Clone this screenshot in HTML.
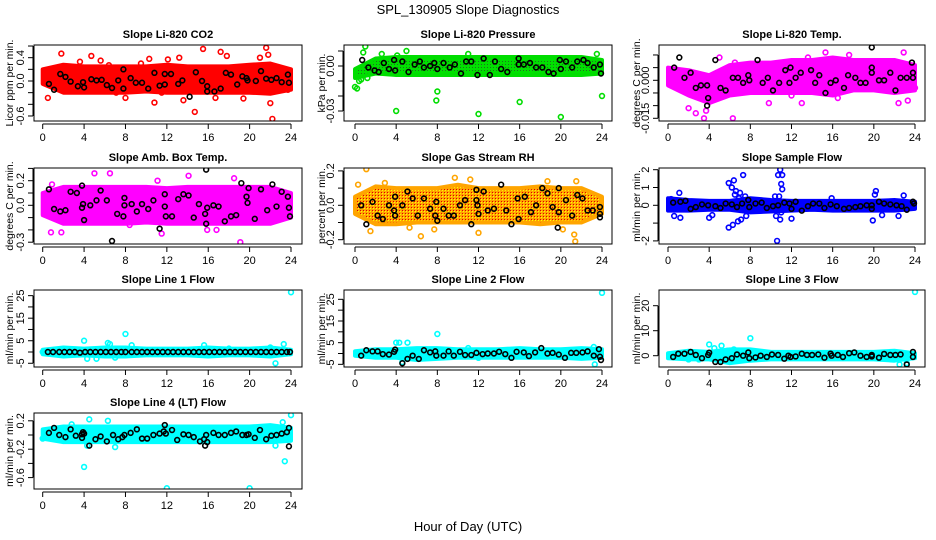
<!DOCTYPE html>
<html><head><meta charset="utf-8">
<style>
html,body{margin:0;padding:0;background:#fff;}
svg{display:block;font-family:"Liberation Sans",sans-serif;}
</style></head>
<body>
<svg id="chart" width="936" height="540" viewBox="0 0 936 540" xmlns="http://www.w3.org/2000/svg">
<defs>
<pattern id="pG" width="3" height="3" patternUnits="userSpaceOnUse"><rect width="3" height="3" fill="#00e000"/><rect x="1" y="1" width="1" height="1" fill="#207020"/></pattern>
<pattern id="pO" width="3" height="3" patternUnits="userSpaceOnUse"><rect width="3" height="3" fill="#ffa500"/><rect x="1" y="1" width="1" height="1" fill="#ffff00"/><rect x="0" y="0" width="1" height="1" fill="#e00000"/></pattern>
</defs>
<text x="468" y="14" text-anchor="middle" font-size="13">SPL_130905  Slope Diagnostics</text>
<text x="468" y="531" text-anchor="middle" font-size="13">Hour of Day (UTC)</text>
<g id="panels"></g>
</svg>
<script>
// ---- data (hour of day, slope value) ----
const bandHours = [0,2,4,6,8,10,12,14,16,18,20,22,24];

const co2BandHi = [0.2,0.28,0.25,0.25,0.25,0.25,0.28,0.25,0.25,0.25,0.28,0.3,0.2];
const co2BandLo = [-0.05,-0.2,-0.2,-0.2,-0.2,-0.18,-0.2,-0.2,-0.2,-0.2,-0.2,-0.22,-0.15];
const co2Outliers = [[0.5,-0.29],[1.8,0.47],[4.7,0.43],[5.6,0.35],[6.4,0.27],[7.1,-0.2],[8.0,-0.29],[10.3,0.38],[10.8,-0.37],[11.5,-0.2],[12.1,0.37],[13.2,0.4],[13.6,-0.33],[14.7,-0.53],[15.5,0.55],[16.7,-0.29],[17.2,0.5],[17.8,0.43],[19.4,-0.3],[21.0,0.4],[21.6,0.57],[21.8,0.45],[22.0,-0.38],[22.2,-0.65],[23.7,-0.15],[3.6,0.33],[9.5,0.3]];
const co2Black = [[0.6,-0.05],[1.1,-0.15],[1.7,0.12],[2.2,0.07],[2.7,-0.01],[3.4,-0.09],[3.9,-0.02],[4.0,-0.11],[4.7,0.03],[5.2,0.01],[5.7,0.02],[6.2,-0.07],[6.7,-0.12],[7.3,0.01],[7.8,0.2],[7.8,-0.13],[8.5,0.05],[9.0,-0.03],[9.6,-0.03],[10.2,-0.13],[10.8,0.14],[11.3,-0.08],[11.8,0.12],[11.8,-0.06],[12.4,0.12],[13.1,-0.05],[13.5,0.01],[14.2,-0.27],[14.8,0.15],[15.4,0.0],[15.9,-0.09],[15.9,-0.18],[16.6,-0.18],[17.2,-0.13],[17.7,0.14],[18.2,0.11],[18.8,-0.06],[19.3,0.08],[19.7,0.05],[19.8,0.01],[20.6,0.0],[21.1,0.17],[21.6,0.04],[22.1,0.02],[22.6,0.05],[23.1,-0.02],[23.7,0.11],[23.8,-0.03]];

const presBandHi = [-0.002,0.005,0.006,0.006,0.006,0.006,0.006,0.006,0.006,0.006,0.006,0.006,0.004];
const presBandLo = [-0.008,-0.005,-0.006,-0.006,-0.006,-0.006,-0.006,-0.006,-0.006,-0.006,-0.006,-0.006,-0.005];
const presOutliers = [[0.0,-0.014],[0.2,-0.015],[0.4,-0.01],[0.6,-0.009],[0.8,0.009],[1.0,0.013],[1.2,-0.008],[2.6,0.008],[4.0,-0.030],[4.1,0.007],[5.0,0.010],[8.0,-0.017],[7.9,-0.023],[12.0,-0.032],[16.0,-0.024],[20.0,-0.034],[24.0,-0.020],[23.5,0.008],[11.0,0.008]];
const presBlack = [[0.7,0.004],[1.3,-0.001],[1.9,-0.003],[2.3,-0.004],[2.8,0.002],[3.3,-0.002],[3.8,0.004],[3.9,-0.003],[4.6,0.003],[5.2,-0.004],[5.8,0.001],[6.3,0.003],[6.7,-0.001],[7.3,0.0],[7.7,0.002],[8.0,-0.002],[8.6,0.002],[9.2,-0.001],[9.7,0.001],[10.3,-0.005],[10.8,0.003],[11.3,0.003],[11.9,-0.006],[12.5,0.005],[13.1,-0.006],[13.6,0.003],[14.2,-0.002],[14.8,-0.004],[15.9,0.005],[15.9,0.001],[16.4,0.001],[17.0,0.002],[17.6,-0.001],[18.2,-0.001],[18.8,-0.004],[19.3,-0.005],[19.9,0.004],[20.0,-0.002],[20.5,0.003],[21.1,-0.001],[21.6,0.003],[22.2,0.004],[22.6,0.002],[23.2,-0.001],[23.8,0.001],[23.9,-0.005]];

const tempBandHi = [0.005,0.004,0.002,0.006,0.007,0.007,0.008,0.008,0.009,0.008,0.008,0.008,0.006];
const tempBandLo = [-0.002,-0.006,-0.009,-0.006,-0.005,-0.005,-0.005,-0.005,-0.006,-0.004,-0.004,-0.005,-0.004];
const tempOutliers = [[0.5,0.004],[2.0,-0.011],[2.7,-0.013],[3.5,-0.015],[3.7,-0.012],[6.3,-0.015],[6.5,0.007],[9.8,-0.009],[13.0,-0.009],[13.6,0.009],[15.3,0.011],[16.5,-0.007],[17.6,0.010],[19.6,0.006],[22.4,-0.009],[22.9,0.011],[23.3,-0.008],[24.0,-0.003],[5.0,0.009],[12.0,-0.006]];
const tempBlack = [[0.6,0.005],[1.1,0.009],[1.6,0.001],[2.2,0.003],[2.7,-0.003],[3.2,-0.002],[3.8,-0.002],[3.9,-0.007],[3.8,-0.010],[4.6,0.008],[5.1,-0.003],[5.6,-0.004],[6.3,0.001],[6.8,0.001],[7.3,-0.001],[7.8,0.002],[7.9,0.0],[8.7,0.008],[9.2,-0.001],[9.7,0.001],[10.2,-0.004],[10.8,-0.001],[11.4,0.004],[11.8,-0.001],[11.9,0.005],[12.4,0.001],[12.9,0.003],[13.9,0.004],[14.3,-0.001],[14.7,0.002],[15.3,-0.005],[15.8,-0.001],[16.3,0.0],[17.1,-0.003],[17.5,0.002],[18.2,0.001],[18.7,-0.001],[19.2,-0.001],[19.8,0.013],[19.8,0.005],[19.8,0.003],[20.5,0.0],[21.0,0.0],[21.6,0.003],[22.1,-0.004],[22.6,0.001],[23.2,0.001],[23.7,0.007],[23.8,0.003],[23.8,0.001]];

const ambBandHi = [0.1,0.15,0.15,0.15,0.15,0.15,0.14,0.15,0.15,0.15,0.15,0.15,0.1];
const ambBandLo = [-0.08,-0.15,-0.15,-0.15,-0.15,-0.14,-0.15,-0.15,-0.15,-0.15,-0.15,-0.15,-0.1];
const ambOutliers = [[5.0,0.26],[6.5,0.26],[14.1,0.24],[18.5,0.22],[0.8,-0.22],[1.8,-0.22],[19.1,-0.3],[11.5,-0.23],[15.9,-0.2],[16.8,-0.2],[8.4,-0.16],[11.1,0.2],[0.9,0.17]];
const ambBlack = [[0.6,0.13],[1.1,-0.03],[1.7,-0.05],[2.2,-0.04],[2.7,0.11],[3.3,0.10],[3.8,0.16],[3.8,-0.02],[3.9,0.01],[4.0,-0.12],[4.6,0.0],[5.2,0.04],[5.6,0.12],[6.2,0.04],[6.7,-0.29],[7.2,-0.07],[7.8,-0.09],[7.9,0.0],[7.9,0.06],[8.6,0.01],[9.1,-0.05],[9.6,0.01],[10.2,-0.03],[10.7,0.04],[11.3,-0.19],[11.8,0.09],[11.8,-0.01],[11.9,-0.09],[12.5,-0.09],[13.1,0.05],[13.6,0.09],[14.1,0.08],[14.6,-0.1],[15.1,0.01],[15.7,-0.07],[15.8,-0.15],[15.8,0.29],[15.9,-0.02],[16.5,0.0],[17.0,-0.01],[17.6,-0.13],[18.2,-0.09],[18.7,-0.08],[19.2,0.18],[19.7,0.07],[19.8,0.02],[19.9,0.14],[20.5,-0.11],[21.1,0.13],[21.7,-0.04],[22.2,0.17],[22.6,-0.01],[23.1,0.11],[23.7,0.07],[23.8,-0.02],[23.9,-0.09]];

const rhBandHi = [0.05,0.11,0.1,0.1,0.1,0.12,0.1,0.1,0.1,0.11,0.1,0.1,0.05];
const rhBandLo = [-0.05,-0.11,-0.11,-0.1,-0.1,-0.1,-0.1,-0.1,-0.1,-0.11,-0.1,-0.1,-0.05];
const rhOutliers = [[1.1,0.21],[1.5,-0.15],[5.3,-0.13],[6.4,-0.18],[7.7,-0.14],[9.7,0.16],[11.2,0.15],[12.0,-0.16],[18.7,0.14],[20.2,-0.14],[21.3,-0.17],[21.5,0.14],[21.4,-0.21],[2.9,0.13],[0.3,0.12]];
const rhBlack = [[0.6,0.0],[1.1,-0.11],[1.7,0.02],[2.2,-0.06],[2.7,-0.08],[3.3,0.0],[3.8,-0.03],[3.9,0.05],[3.9,-0.06],[4.6,0.0],[5.1,0.08],[5.6,0.04],[6.1,-0.06],[6.7,0.04],[7.3,-0.02],[7.9,0.02],[7.8,-0.06],[8.0,-0.09],[8.6,-0.02],[9.1,-0.06],[9.6,-0.06],[10.2,0.0],[10.7,0.03],[11.3,-0.11],[11.8,0.03],[11.8,0.09],[11.9,0.0],[12.0,-0.05],[12.5,0.08],[12.9,-0.03],[13.5,-0.02],[14.2,0.12],[14.7,-0.03],[15.2,-0.11],[15.8,0.04],[15.9,-0.08],[16.5,0.05],[17.1,-0.04],[17.6,0.0],[18.2,0.1],[18.7,0.07],[19.2,-0.01],[19.8,0.1],[19.7,-0.13],[19.8,-0.04],[20.5,0.03],[21.1,-0.06],[21.6,0.06],[22.1,0.04],[22.6,-0.03],[23.1,-0.03],[23.8,-0.01],[23.8,-0.05],[23.8,-0.07]];

const flowBandHi = [0.4,0.3,0.25,0.25,0.4,0.3,0.25,0.25,0.25,0.25,0.25,0.3,0.2];
const flowBandLo = [-0.3,-0.3,-0.25,-0.25,-0.4,-0.35,-0.3,-0.25,-0.3,-0.3,-0.3,-0.3,-0.2];
const flowOutliers = [[0.3,0.35],[0.6,-0.6],[1.1,0.7],[1.2,-0.7],[4.0,-0.7],[4.3,-0.55],[5.9,1.25],[5.9,-1.25],[6.3,-1.1],[6.4,1.4],[6.2,1.0],[6.6,0.8],[6.8,-0.9],[7.0,0.7],[7.3,1.7],[7.1,-0.8],[7.5,0.5],[7.6,-0.6],[10.5,-0.6],[10.6,-2.0],[10.7,1.7],[10.8,0.5],[10.9,2.0],[11.0,1.2],[11.1,1.7],[10.9,-0.8],[11.0,-0.4],[12.0,-0.75],[15.9,0.4],[19.9,-0.85],[20.1,0.6],[20.2,0.8],[20.8,-0.55],[22.4,-0.6],[22.9,0.55],[6.5,0.6],[6.9,0.4],[10.4,0.5],[11.1,0.9]];
const flowBlack = [[0.5,0.15],[1.2,0.2],[1.7,0.25],[2.2,-0.2],[2.7,-0.1],[3.3,0.05],[3.9,0.0],[4.6,-0.05],[5.1,-0.15],[5.6,0.1],[6.2,0.05],[6.7,-0.1],[7.2,0.1],[7.8,0.3],[7.9,-0.1],[8.5,0.1],[9.1,0.15],[9.6,-0.15],[10.2,-0.05],[10.7,0.0],[11.3,0.15],[11.8,0.1],[12.0,-0.2],[12.4,0.2],[13.0,-0.3],[13.6,-0.05],[14.1,0.1],[14.7,0.1],[15.2,-0.15],[15.8,0.05],[16.4,-0.05],[17.1,-0.2],[17.6,-0.15],[18.2,-0.1],[18.7,-0.05],[19.3,0.0],[19.8,-0.2],[19.8,0.0],[20.5,0.2],[21.0,0.1],[21.6,0.05],[22.2,0.0],[22.7,-0.05],[23.2,-0.25],[23.8,0.2],[23.9,0.1]];

const line1BandHi = [1,2,1.5,2,2,1.5,1.5,1.5,2,1.5,1.5,2,1];
const line1BandLo = [-1,-2,-1.5,-2,-2,-1.5,-1.5,-1.5,-2,-1.5,-1.5,-2,-1];
const line1Outliers = [[4.0,5],[4.3,-3],[5.2,-3],[6.3,4],[6.5,3.5],[7.0,-2.5],[8.0,8],[8.6,3],[15.6,3],[22.5,-5],[23.3,3.5],[24.0,26.5],[18.0,1.5],[22.0,2],[0.0,0]];
const line1Black = [[0.5,0],[1.0,0],[1.6,0],[2.1,0],[2.6,0],[3.1,0],[3.6,-0.3],[4.1,0],[4.6,0],[5.1,0],[5.6,0],[6.1,0],[6.6,0],[7.1,0],[7.6,0],[8.0,0],[8.6,0],[9.1,0],[9.6,0],[10.1,0],[10.6,0],[11.1,0],[11.6,0],[12.1,0],[12.6,0],[13.1,0],[13.6,0],[14.1,0],[14.6,0],[15.1,0],[15.6,0],[16.1,0],[16.6,0],[17.1,0],[17.6,0],[18.1,0],[18.6,0],[19.1,0],[19.6,0],[20.1,0],[20.6,0],[21.1,0],[21.6,0],[22.1,0],[22.6,0],[23.1,0],[23.6,0],[23.9,0]];

const line2BandHi = [1,2,2,2.5,2.5,2,2,2,2.5,2,2,2.5,2];
const line2BandLo = [-1,-2,-2,-3,-2.5,-2,-2,-2,-2,-2,-2,-2.5,-2];
const line2Outliers = [[4.0,5],[4.3,5],[5.1,5],[4.6,-4],[8.0,9],[23.3,-5],[24.0,28],[11.0,2.5],[12.0,-2],[23.2,3]];
const line2Black = [[0.6,-1],[1.1,1.5],[1.7,1],[2.2,1],[2.7,-0.3],[3.3,-0.5],[3.8,0.8],[3.9,1.8],[4.6,-4.5],[5.1,-2.5],[5.6,-1],[6.2,-2.5],[6.7,1.5],[7.3,0.5],[7.8,1],[7.9,-1],[8.6,-1],[9.1,1],[9.6,-1],[10.2,0.8],[10.7,-0.7],[11.3,-0.7],[11.8,0.3],[12.4,-0.3],[12.9,0],[13.5,0],[14.0,0.8],[14.6,-0.3],[15.2,-2],[15.7,0.8],[16.4,0.5],[16.9,-1.2],[17.5,0.5],[18.1,2.5],[18.7,0],[19.2,0.3],[19.8,-0.5],[20.4,-2],[21.0,0.3],[21.5,0.3],[22.1,0.5],[22.6,1],[23.2,-1],[23.7,2],[23.8,-1.5],[23.9,-3]];

const line3BandHi = [1,2,1.5,2.5,2.5,1.5,1.5,1.5,1.5,1.5,1.5,2,1];
const line3BandLo = [-1,-1.5,-1.5,-3,-2,-1.5,-1.5,-1.5,-1.5,-1.5,-1.5,-2,-1];
const line3Outliers = [[4.0,4.5],[4.5,3],[5.2,4],[5.8,2],[6.4,2.5],[8.0,7],[22.5,-3.5],[23.2,-3],[24.0,25.5],[2.0,-1.5],[3.0,-1.5]];
const line3Black = [[0.5,-0.5],[1.0,0.8],[1.6,0.8],[2.2,1.5],[2.7,0.3],[3.3,-1],[3.9,0.3],[4.0,1.2],[4.6,-2.5],[5.1,-2.5],[5.6,-1.5],[6.2,-1],[6.7,0.5],[7.3,0],[7.8,1.3],[7.9,-1],[8.5,-0.7],[9.0,0],[9.6,-0.5],[10.1,0.5],[10.7,0.3],[11.3,-1.2],[11.7,0],[11.9,-0.5],[12.4,-0.3],[13.0,0.8],[13.5,0.3],[14.0,0.3],[14.6,0.5],[15.2,-0.8],[15.8,0.8],[15.9,0],[16.5,0.3],[17.0,-0.5],[17.6,1],[18.1,1.3],[18.7,0],[19.3,-0.5],[19.8,0.3],[19.8,-0.3],[20.5,-0.8],[21.0,0.7],[21.6,0.3],[22.1,0.3],[22.6,0.5],[23.2,-3.5],[23.8,1.5],[23.8,-0.5]];

const line4BandHi = [0.08,0.12,0.12,0.12,0.12,0.12,0.12,0.12,0.12,0.12,0.12,0.14,0.1];
const line4BandLo = [-0.05,-0.1,-0.1,-0.1,-0.1,-0.1,-0.1,-0.1,-0.1,-0.1,-0.1,-0.1,-0.08];
const line4Outliers = [[4.0,-0.45],[4.5,0.22],[6.3,0.2],[7.0,-0.17],[12.0,-0.75],[20.0,-0.75],[23.4,-0.37],[24.0,0.28],[23.2,0.18],[2.8,0.15],[4.3,-0.15],[22.5,-0.15],[0.0,-0.05]];
const line4Black = [[0.6,0.03],[1.1,0.1],[1.6,0.0],[2.2,-0.03],[2.7,0.08],[3.2,-0.01],[3.8,0.01],[3.9,0.04],[4.0,0.02],[3.8,-0.04],[4.5,-0.15],[5.1,-0.06],[5.6,-0.02],[6.2,-0.09],[6.8,0.0],[7.3,-0.06],[7.7,-0.03],[7.9,0.0],[8.5,0.03],[9.1,0.08],[9.6,-0.05],[10.1,-0.05],[10.7,0.0],[11.3,0.02],[11.7,0.05],[11.8,0.14],[11.9,0.02],[12.5,0.07],[13.0,-0.07],[13.6,0.01],[14.1,0.0],[14.6,-0.03],[15.2,-0.09],[15.6,-0.06],[15.7,-0.15],[15.9,-0.1],[15.8,0.0],[16.5,0.03],[17.0,0.0],[17.6,0.0],[18.2,0.03],[18.7,0.05],[19.3,0.0],[19.7,0.0],[19.9,0.01],[20.5,-0.04],[21.0,0.07],[21.6,-0.06],[22.1,-0.01],[22.6,0.0],[23.1,0.02],[23.6,0.04],[23.8,0.1],[23.8,-0.16]];

const xTickLabels = ["0","4","8","12","16","20","24"];
const xTickValues = [0,4,8,12,16,20,24];

// ---- layout (not data) ----
const cols = [{l:34,r:302,x0:42.7,x24:291,yl:9},{l:344,r:612,x0:355,x24:602,yl:321},{l:659,r:925,x0:668,x24:915,yl:636}];
const rows = [{t:45,b:121},{t:168,b:244},{t:290,b:367},{t:413,b:489}];

const panels = [
 {name:"co2",title:"Slope Li-820 CO2",yl:"Licor ppm per min.",c:0,r:0,zero:81,k:58.3,ticks:[-0.6,-0.4,-0.2,0,0.2,0.4,0.6],labels:{"0.4":"0.4","0":"0.0","-0.6":"-0.6"},col:"#ff0000",fill:"#ff0000",hi:co2BandHi,lo:co2BandLo,out:co2Outliers,blk:co2Black},
 {name:"pressure",title:"Slope Li-820 Pressure",yl:"kPa per min.",c:1,r:0,zero:66,k:1500,ticks:[-0.03,-0.02,-0.01,0,0.01],labels:{"0":"0.00","-0.03":"-0.03"},col:"#00dd00",fill:"url(#pG)",hi:presBandHi,lo:presBandLo,out:presOutliers,blk:presBlack},
 {name:"temp",title:"Slope Li-820 Temp.",yl:"degrees C per min.",c:2,r:0,zero:80.3,k:2533,ticks:[-0.015,-0.01,-0.005,0,0.005,0.01],labels:{"0":"0.000","-0.015":"-0.015"},col:"#ff00ff",fill:"#ff00ff",hi:tempBandHi,lo:tempBandLo,out:tempOutliers,blk:tempBlack},
 {name:"amb-box-temp",title:"Slope Amb. Box Temp.",yl:"degrees C per min.",c:0,r:1,zero:205.3,k:123,ticks:[-0.3,-0.2,-0.1,0,0.1,0.2,0.3],labels:{"0.2":"0.2","0":"0.0","-0.3":"-0.3"},col:"#ff00ff",fill:"#ff00ff",hi:ambBandHi,lo:ambBandLo,out:ambOutliers,blk:ambBlack},
 {name:"gas-rh",title:"Slope Gas Stream RH",yl:"percent per min.",c:1,r:1,zero:205.3,k:172,ticks:[-0.2,-0.1,0,0.1,0.2],labels:{"0.2":"0.2","0":"0.0","-0.2":"-0.2"},col:"#ffa500",fill:"url(#pO)",hi:rhBandHi,lo:rhBandLo,out:rhOutliers,blk:rhBlack},
 {name:"sample-flow",title:"Slope Sample Flow",yl:"ml/min per min.",c:2,r:1,zero:205.3,k:17.8,ticks:[-2,-1,0,1,2],labels:{"2":"2","1":"1","0":"0","-2":"-2"},col:"#0000ff",fill:"#0000ff",hi:flowBandHi,lo:flowBandLo,out:flowOutliers,blk:flowBlack},
 {name:"line1-flow",title:"Slope Line 1 Flow",yl:"ml/min per min.",c:0,r:2,zero:352,k:2.254,ticks:[-5,0,5,10,15,20,25],labels:{"25":"25","15":"15","5":"5","-5":"-5"},col:"#00ffff",fill:"#00ffff",hi:line1BandHi,lo:line1BandLo,out:line1Outliers,blk:line1Black},
 {name:"line2-flow",title:"Slope Line 2 Flow",yl:"ml/min per min.",c:1,r:2,zero:353.5,k:2.167,ticks:[-5,0,5,10,15,20,25],labels:{"25":"25","15":"15","5":"5","-5":"-5"},col:"#00ffff",fill:"#00ffff",hi:line2BandHi,lo:line2BandLo,out:line2Outliers,blk:line2Black},
 {name:"line3-flow",title:"Slope Line 3 Flow",yl:"ml/min per min.",c:2,r:2,zero:355.7,k:2.5,ticks:[0,10,20],labels:{"20":"20","10":"10","0":"0"},col:"#00ffff",fill:"#00ffff",hi:line3BandHi,lo:line3BandLo,out:line3Outliers,blk:line3Black},
 {name:"line4-flow",title:"Slope Line 4 (LT) Flow",yl:"ml/min per min.",c:0,r:3,zero:435,k:71,ticks:[-0.6,-0.4,-0.2,0,0.2],labels:{"0.2":"0.2","-0.2":"-0.2","-0.6":"-0.6"},col:"#00ffff",fill:"#00ffff",hi:line4BandHi,lo:line4BandLo,out:line4Outliers,blk:line4Black}
];

const NS="http://www.w3.org/2000/svg";
function mk(tag,attrs,parent){const e=document.createElementNS(NS,tag);for(const a in attrs)e.setAttribute(a,attrs[a]);parent.appendChild(e);return e;}
const root=document.getElementById('panels');

panels.forEach(p=>{
  const C=cols[p.c],R=rows[p.r];
  const xs=h=>C.x0+(C.x24-C.x0)*h/24;
  const ys=v=>p.zero-v*p.k;
  const g=mk('g',{},root);
  
  
  const cx=(C.l+C.r)/2;
  const t=mk('text',{x:cx,y:R.t-7,'text-anchor':'middle','font-size':'11','font-weight':'bold'},g);
  t.textContent=p.title;
  
  
  // clip
  const cid='clip-'+p.name;
  const cp=mk('clipPath',{id:cid},g);
  mk('rect',{x:C.l,y:R.t,width:C.r-C.l,height:R.b-R.t},cp);
  const plot=mk('g',{'clip-path':'url(#'+cid+')'},g);
  
  
  // band
  let d='';
  bandHours.forEach((h,i)=>{d+=(i?'L':'M')+xs(h).toFixed(1)+','+ys(p.hi[i]).toFixed(1);});
  for(let i=bandHours.length-1;i>=0;i--){d+='L'+xs(bandHours[i]).toFixed(1)+','+ys(p.lo[i]).toFixed(1);}
  const band=mk('path',{d:d+'Z',fill:p.fill,stroke:p.col,'stroke-width':'4','stroke-linejoin':'round'},plot);
  
  
  p.out.forEach(pt=>{
    const c=mk('circle',{cx:xs(pt[0]),cy:ys(pt[1]),r:2.4,fill:'none',stroke:p.col,'stroke-width':'1.6'},plot);
    
    
  });
  p.blk.forEach(pt=>{
    const c=mk('circle',{cx:xs(pt[0]),cy:ys(pt[1]),r:2.4,fill:'none',stroke:'#000','stroke-width':'1.6'},plot);
    
    
  });
  // box
  const box=mk('rect',{x:C.l,y:R.t,width:C.r-C.l,height:R.b-R.t,fill:'none',stroke:'#000','stroke-width':'1'},g);
  
  
  // x axis
  const xa=mk('g',{},g);
  
  
  const ax=R.b+3;
  mk('line',{x1:xs(0),x2:xs(24),y1:ax,y2:ax,stroke:'#000'},xa);
  xTickValues.forEach((v,i)=>{
    mk('line',{x1:xs(v),x2:xs(v),y1:ax,y2:ax+5,stroke:'#000'},xa);
    const tl=mk('text',{x:xs(v),y:ax+17,'text-anchor':'middle','font-size':'11'},xa);
    tl.textContent=xTickLabels[i];
    
    
  });
  // y axis
  const ya=mk('g',{},g);
  
  
  const lx=C.l-1;
  const tmin=Math.min(...p.ticks),tmax=Math.max(...p.ticks);
  mk('line',{x1:lx,x2:lx,y1:ys(tmin),y2:ys(tmax),stroke:'#000'},ya);
  p.ticks.forEach(v=>{
    const y=ys(v);
    mk('line',{x1:lx-5,x2:lx,y1:y,y2:y,stroke:'#000'},ya);
    const key=String(Math.round(v*1000)/1000);
    if(p.labels[key]!==undefined){
      const tl=mk('text',{x:0,y:0,'text-anchor':'middle','font-size':'11',transform:'translate('+(lx-9)+','+y+') rotate(-90)'},ya);
      tl.textContent=p.labels[key];
      
      
    }
  });
  const yt=mk('text',{x:0,y:0,'text-anchor':'middle','font-size':'10.5',transform:'translate('+(C.yl+4)+','+((R.t+R.b)/2)+') rotate(-90)'},g);
  yt.textContent=p.yl;
  
  
});
</script>
</body></html>
